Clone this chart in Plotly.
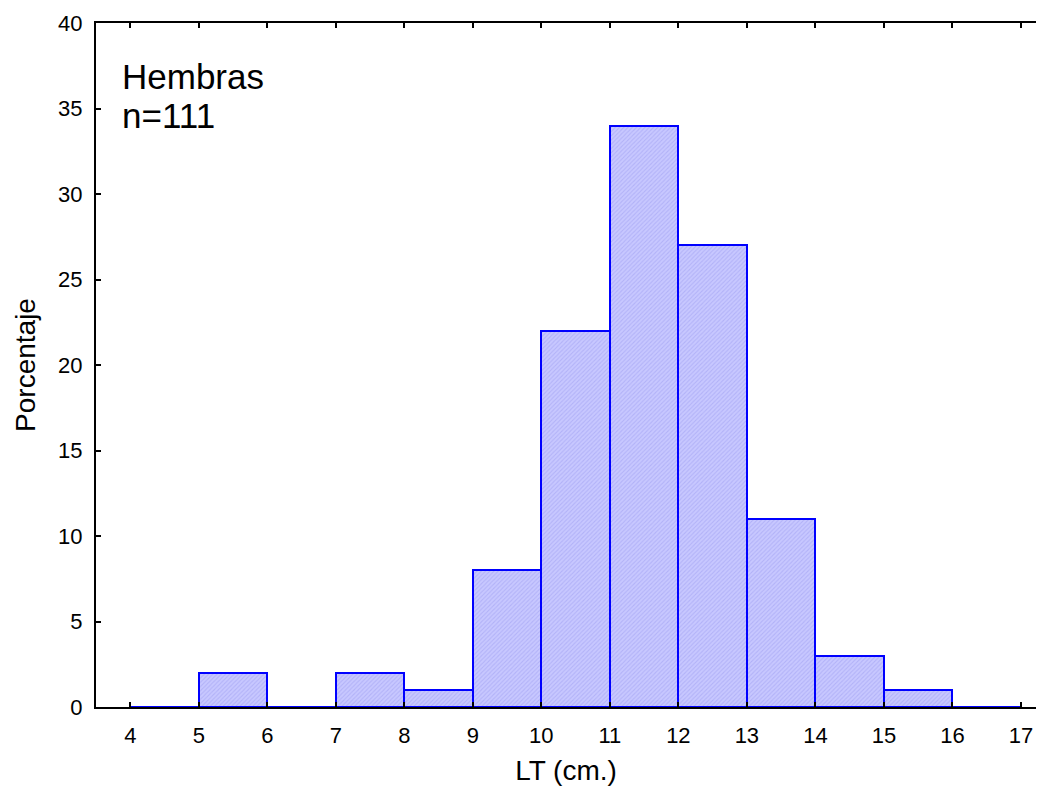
import plotly.graph_objects as go

bin_starts = [4, 5, 6, 7, 8, 9, 10, 11, 12, 13, 14, 15, 16]
porcentaje = [0, 2, 0, 2, 1, 8, 22, 34, 27, 11, 3, 1, 0]
x_ticks = list(range(4, 18))
y_ticks = [0, 5, 10, 15, 20, 25, 30, 35, 40]
label_lines = ["Hembras", "n=111"]

centers = [b + 0.5 for b in bin_starts]

fig = go.Figure()
fig.add_trace(go.Bar(
    x=centers, y=porcentaje, width=[1] * len(centers),
    marker=dict(
        color="#c4c4fc",
        line=dict(color="#0000ff", width=2),
        pattern=dict(shape="/", fgcolor="#9c9cf0", bgcolor="#c8c8ff", size=3, solidity=0.35),
    ),
    showlegend=False,
))

font = "Liberation Sans, Arial, sans-serif"
fig.update_layout(
    width=1028, height=778,
    margin=dict(l=88, r=0, t=15, b=79),
    paper_bgcolor="white", plot_bgcolor="white",
    bargap=0,
    font=dict(family=font, color="black", size=22),
    xaxis=dict(
        range=[3.5, 17.22], tickvals=x_ticks, ticktext=[str(v) for v in x_ticks],
        ticks="inside", ticklen=5, tickwidth=2, tickcolor="black",
        tickfont=dict(size=22),
        showline=True, linecolor="black", linewidth=2, mirror="ticks",
        showgrid=False, zeroline=False,
        ticklabelstandoff=8,
        title=dict(text="LT (cm.)", font=dict(size=28), standoff=13),
    ),
    yaxis=dict(
        range=[0, 40], tickvals=y_ticks,
        ticks="inside", ticklen=5, tickwidth=2, tickcolor="black",
        tickfont=dict(size=22),
        showline=True, linecolor="black", linewidth=2, mirror=False,
        showgrid=False, zeroline=False,
        ticklabelstandoff=7,
        title=dict(text="Porcentaje", font=dict(size=28), standoff=14),
    ),
    annotations=[
        dict(text=label_lines[0], xref="paper", yref="paper", x=0.025, y=0.922,
             xanchor="left", yanchor="middle", showarrow=False,
             font=dict(size=35, family=font, color="black")),
        dict(text=label_lines[1], xref="paper", yref="paper", x=0.025, y=0.865,
             xanchor="left", yanchor="middle", showarrow=False,
             font=dict(size=35, family=font, color="black")),
    ],
)

fig.write_html("out.html")
